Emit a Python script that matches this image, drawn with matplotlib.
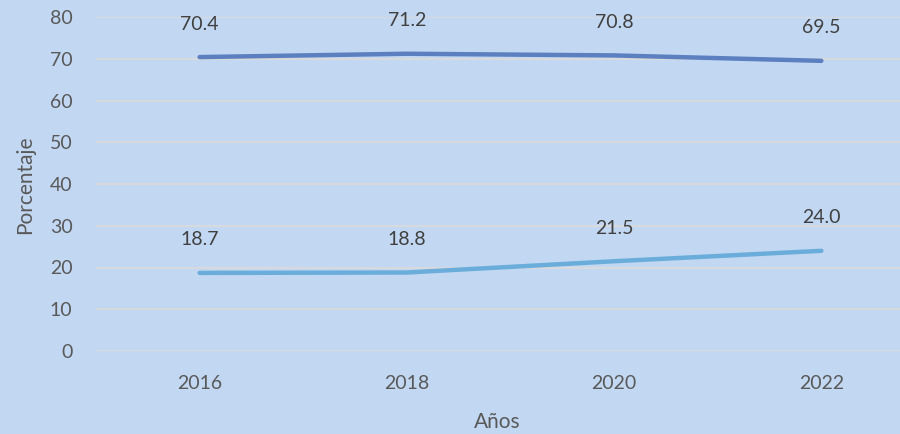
import matplotlib
matplotlib.use("Agg")
import matplotlib.pyplot as plt

years = ["2016", "2018", "2020", "2022"]
serie_alta = [70.4, 71.2, 70.8, 69.5]
serie_baja = [18.7, 18.8, 21.5, 24.0]
yticks = [0, 10, 20, 30, 40, 50, 60, 70, 80]

plt.rcParams["font.family"] = ["Lato", "DejaVu Sans"]

BG = "#c2d7f2"
fig = plt.figure(figsize=(9.0, 4.34), dpi=100, facecolor=BG)
# axes extends past the right edge, as in the cropped original
ax = fig.add_axes([96 / 900, 83 / 434, 829 / 900, 334 / 434])
ax.set_facecolor("none")

x = list(range(len(years)))
ax.plot(x, serie_alta, color="#5b7fbf", linewidth=3.2, solid_capstyle="round", zorder=3)
ax.plot(x, serie_baja, color="#6badda", linewidth=3.2, solid_capstyle="round", zorder=3)

for xs, v in zip(x, serie_alta):
    ax.annotate(f"{v:.1f}", (xs, v), xytext=(0, 33), textcoords="offset pixels",
                ha="center", va="center", fontsize=14, color="#404040")
for xs, v in zip(x, serie_baja):
    ax.annotate(f"{v:.1f}", (xs, v), xytext=(0, 33), textcoords="offset pixels",
                ha="center", va="center", fontsize=14, color="#404040")

ax.set_xlim(-0.5, len(years) - 0.5)
ax.set_ylim(0, 80)
ax.set_yticks(yticks)
ax.set_xticks(x)
ax.set_xticklabels(years)
ax.grid(axis="y", color="#dadada", linewidth=1.3, zorder=0)
ax.set_axisbelow(True)
for s in ax.spines.values():
    s.set_visible(False)
ax.tick_params(axis="both", length=0, labelsize=14, colors="#595959")
ax.tick_params(axis="y", pad=17)
ax.tick_params(axis="x", pad=17)

fig.text(497 / 900, 1 - 422 / 434, "Años", ha="center", va="center",
         fontsize=15, color="#595959")
fig.text(25 / 900, 1 - 185 / 434, "Porcentaje", ha="center", va="center",
         rotation=90, fontsize=15, color="#595959")

fig.savefig("out.png", dpi=100, facecolor=BG)
